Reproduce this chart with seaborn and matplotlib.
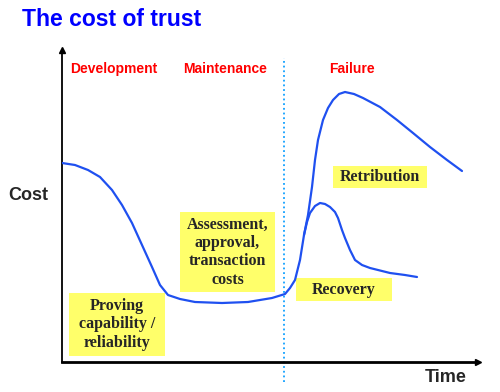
import pandas as pd
import matplotlib
matplotlib.use("Agg")
import matplotlib.pyplot as plt
import seaborn as sns
from matplotlib.patches import Rectangle

# curve values (time, cost in arbitrary units)
main_time = [0, 3.25, 6.5, 9.5, 12.5, 15, 17.5, 20, 22.5, 24.5, 26.5, 29.5, 33.25, 40,
             46.5, 52.5, 55.75, 57, 58.25, 59.5, 60.5, 61.5, 62.5, 63.25, 64, 65.25,
             66.5, 67.75, 69.25, 70.75, 73, 75.25, 79.5, 83.75, 87.75, 92, 96.25, 100]
main_cost = [49.75, 49.25, 48, 46.25, 43, 39.25, 34.75, 29.25, 23.75, 19.25, 16.75, 15.75,
             15, 14.75, 15, 16, 17, 18.5, 20.5, 25.5, 31.75, 36.75, 43.75, 50.5, 55.5,
             60.5, 63.5, 65.5, 67, 67.5, 67, 66, 63.75, 60.5, 57.25, 53.75, 50.5, 47.75]

recovery_time = [60.5, 61.25, 62, 63.25, 64.5, 65.75, 67, 68.25, 69, 70, 70.75, 72,
                 73.25, 75, 77, 82, 85.75, 88.75]
recovery_cost = [31.75, 35, 37.25, 39, 39.75, 39.5, 38.75, 37.5, 36, 33, 31, 28,
                 25.5, 24.25, 23.5, 22.25, 21.75, 21.25]

failure_start = 55.5

phases = ["Development", "Maintenance", "Failure"]
phase_centers = [13, 40.75, 72.5]

box_labels = ["Proving\ncapability /\nreliability",
              "Assessment,\napproval,\ntransaction\ncosts",
              "Retribution",
              "Recovery"]
# (t0, t1, c0, c1) of each label box
box_extent = [(1.75, 25.75, 1.5, 17.25),
              (29.5, 53.25, 17.5, 37.5),
              (67.75, 91.25, 43.5, 49),
              (58.5, 82.5, 15.25, 21)]

df_main = pd.DataFrame({"Time": main_time, "Cost": main_cost, "curve": "main"})
df_rec = pd.DataFrame({"Time": recovery_time, "Cost": recovery_cost, "curve": "recovery"})
df = pd.concat([df_main, df_rec], ignore_index=True)

sns.set_style("white")

fig = plt.figure(figsize=(5, 3.92), dpi=100)
ax = fig.add_axes([62 / 500, 30 / 392, 416 / 500, 312 / 392])

for b, (t0, t1, c0, c1) in zip(box_labels, box_extent):
    ax.add_patch(Rectangle((t0, c0), t1 - t0, c1 - c0, facecolor="#ffff6a",
                           edgecolor="none", zorder=1))
    ax.text((t0 + t1) / 2, (c0 + c1) / 2, b, ha="center", va="center",
            family="Liberation Serif", fontweight="bold", fontsize=11.5,
            linespacing=1.2, zorder=4)

sns.lineplot(data=df, x="Time", y="Cost", units="curve", estimator=None,
             sort=False, color="#1f50f0", linewidth=1.6, ax=ax, zorder=3)

ax.plot([failure_start, failure_start], [-5, 76], color="#10a0ff",
        linestyle=(0, (1, 1.6)), linewidth=1.3, clip_on=False, zorder=2)

for p, x in zip(phases, phase_centers):
    ax.text(x, 73.3, p, ha="center", va="center", color="#ff0000",
            family="Liberation Sans", fontweight="bold", fontsize=10)

ax.set_xlim(0, 104)
ax.set_ylim(0, 78)
ax.set_xticks([])
ax.set_yticks([])
ax.set_xlabel("")
ax.set_ylabel("")
for s in ["top", "right"]:
    ax.spines[s].set_visible(False)
ax.spines["left"].set_color("black")
ax.spines["left"].set_linewidth(1.3)
ax.spines["bottom"].set_color("black")
ax.spines["bottom"].set_linewidth(2)
ax.plot(1, 0, ">k", markersize=5, transform=ax.transAxes, clip_on=False)
ax.plot(0, 1, "^k", markersize=5, transform=ax.transAxes, clip_on=False)

fig.text(22 / 500, 1 - 19 / 392, "The cost of trust", ha="left", va="center",
         color="#0000ff", fontsize=16.5, fontweight="bold", family="Liberation Sans")
fig.text(28 / 500, 1 - 195 / 392, "Cost", ha="center", va="center",
         fontsize=13, fontweight="bold", family="Liberation Sans")
fig.text(446 / 500, 1 - 378 / 392, "Time", ha="center", va="center",
         fontsize=13, fontweight="bold", family="Liberation Sans")

fig.savefig("out.png", dpi=100)
